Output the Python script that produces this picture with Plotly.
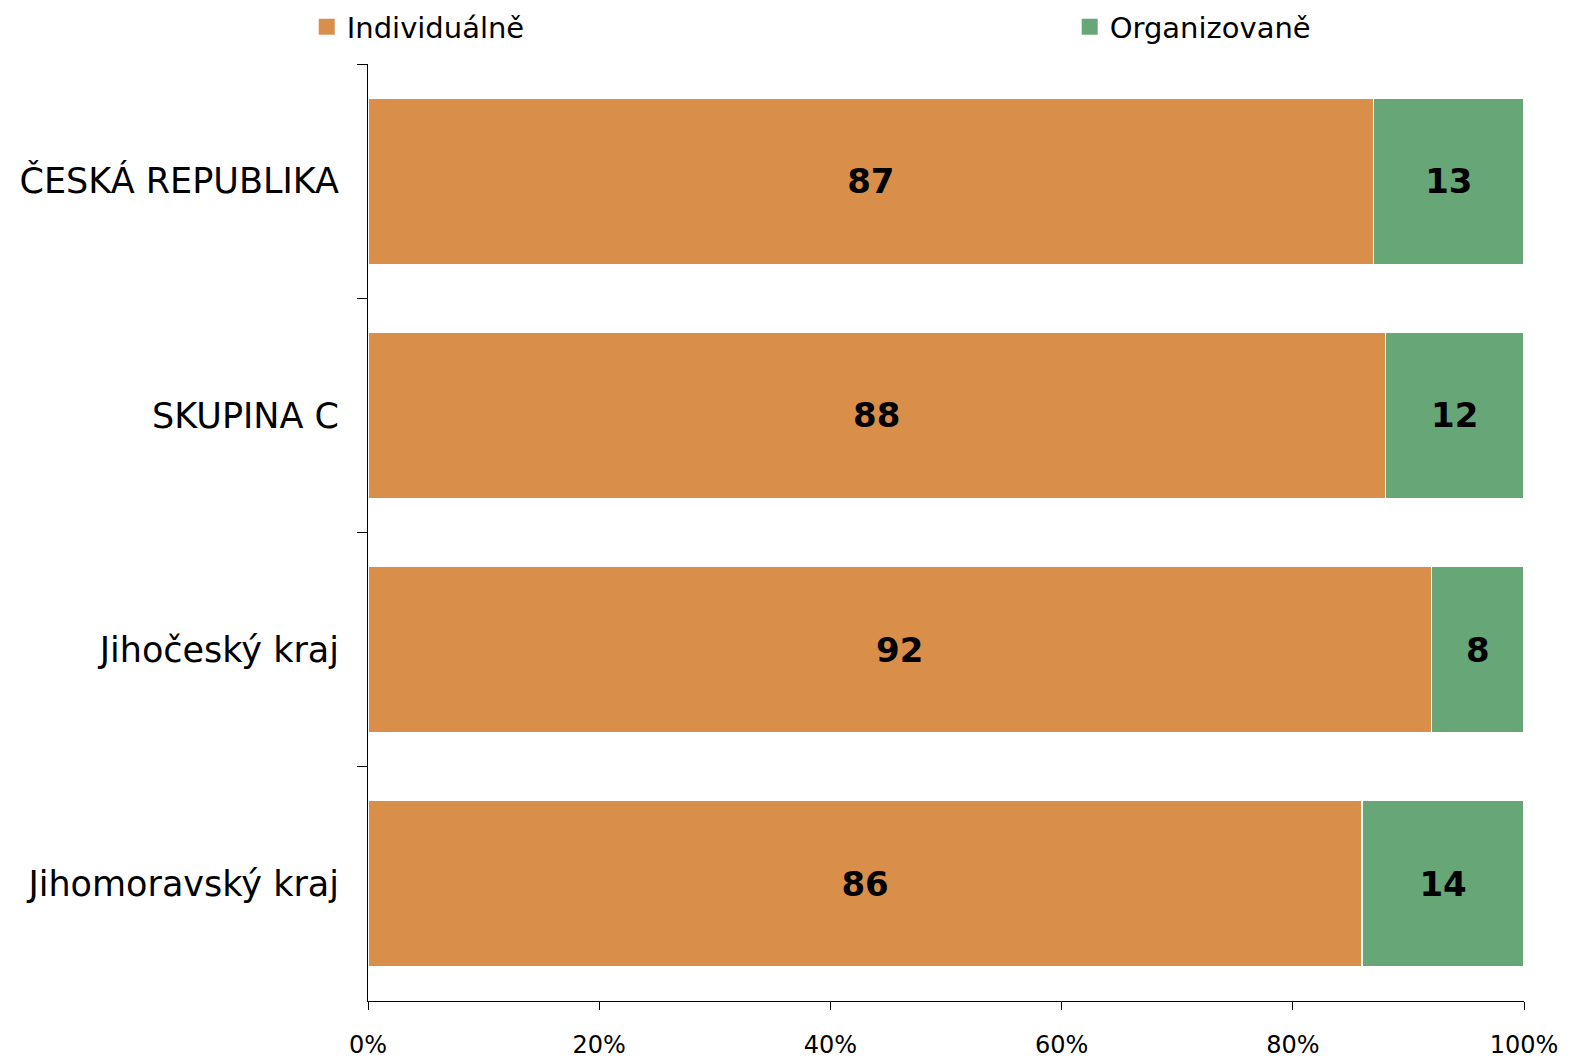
import plotly.graph_objects as go

# Data: share of trips by form of organisation (%)
regions = ["ČESKÁ REPUBLIKA", "SKUPINA C", "Jihočeský kraj", "Jihomoravský kraj"]
individualne = [87, 88, 92, 86]
organizovane = [13, 12, 8, 14]
x_ticks = [0, 20, 40, 60, 80, 100]
x_tick_labels = ["0%", "20%", "40%", "60%", "80%", "100%"]

FONT = "DejaVu Sans"
ORANGE = "#D98F4A"
GREEN = "#67A677"

series = [
    ("Individuálně", individualne, ORANGE, "legend", -0.053),
    ("Organizovaně", organizovane, GREEN, "legend2", 0.607),
]

fig = go.Figure()

for name, vals, color, leg, _ in series:
    fig.add_trace(go.Bar(
        y=regions, x=vals, name=name, orientation="h",
        marker=dict(color=color, line=dict(color="white", width=1.5)),
        text=vals, texttemplate="<b>%{text}</b>",
        textposition="inside", insidetextanchor="middle",
        textfont=dict(family=FONT, size=34, color="black"),
        showlegend=False,
    ))

# Legend entries with larger square swatches, each in its own legend box
for name, vals, color, leg, _ in series:
    fig.add_trace(go.Scatter(
        x=[None], y=[None], mode="markers", name=name,
        marker=dict(symbol="square", size=17, color=color),
        legend=leg, showlegend=True,
    ))

legend_style = dict(
    orientation="h", yanchor="middle", y=1.0395, xanchor="left",
    font=dict(family=FONT, size=29, color="black"),
    itemsizing="trace", bgcolor="rgba(0,0,0,0)",
)

fig.update_layout(
    barmode="stack",
    bargap=0.29,
    width=1572, height=1058,
    margin=dict(l=368, r=48, t=64, b=57, autoexpand=False),
    paper_bgcolor="white", plot_bgcolor="white",
    font=dict(family=FONT, color="black"),
    legend=dict(x=series[0][4], **legend_style),
    legend2=dict(x=series[1][4], **legend_style),
)

fig.update_xaxes(
    range=[0, 100], tickvals=x_ticks, ticktext=x_tick_labels,
    showgrid=False, zeroline=False,
    showline=True, linecolor="black", linewidth=1,
    ticks="outside", ticklen=8, tickcolor="black",
    tickfont=dict(family=FONT, size=24, color="black"),
    ticklabelstandoff=14,
)
fig.update_yaxes(
    autorange="reversed", showgrid=False,
    showline=True, linecolor="black", linewidth=1,
    ticks="outside", ticklen=10, tickcolor="black", tickson="boundaries",
    tickfont=dict(family=FONT, size=35, color="black"),
    ticklabelstandoff=21,
)

fig.write_html("out.html")
